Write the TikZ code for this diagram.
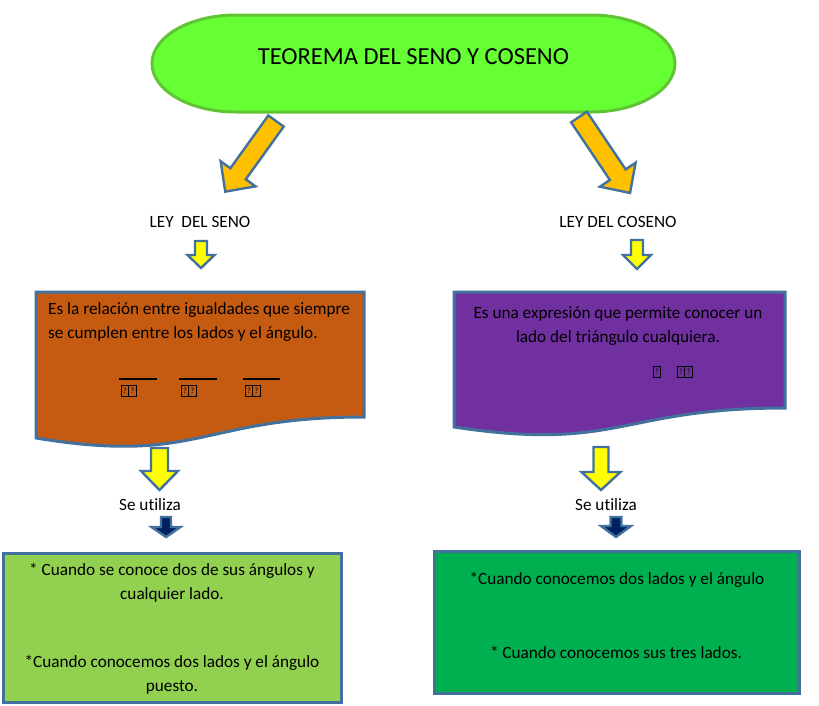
\documentclass[tikz,border=0pt]{standalone}
\usepackage{fontspec}
\setmainfont[Ligatures=NoCommon]{Carlito}
\usetikzlibrary{calc}
\definecolor{bord}{RGB}{65,113,156}
\definecolor{titlegreen}{RGB}{102,255,51}
\definecolor{titlebord}{RGB}{96,196,52}
\definecolor{arrorange}{RGB}{255,192,0}
\definecolor{arryellow}{RGB}{255,255,0}
\definecolor{arrnavy}{RGB}{0,32,96}
\definecolor{docorange}{RGB}{197,90,17}
\definecolor{docpurple}{RGB}{112,48,160}
\definecolor{boxlight}{RGB}{146,208,80}
\definecolor{boxgreen}{RGB}{0,176,80}
\tikzset{
  txt/.style={font=\fontsize{17.2}{24}\selectfont, inner sep=0pt, text=black},
  arrowborder/.style={draw=bord, line width=2.4pt, line join=miter},
  panel/.style={draw=bord, line width=3pt},
  qbox/.style={draw=black, line width=0.9pt, minimum width=7.5pt, minimum height=10.5pt,
     inner sep=0pt, font=\fontsize{8}{8}\selectfont},
  fracline/.style={line width=1.3pt, black}
}
% #1 name, #2 tail, #3 angle, #4 length, #5 shaft, #6 head, #7 head length, #8 fill
\newcommand\blockarr[8]{%
  \begin{scope}[shift={#2}, rotate=#3]
    \draw[arrowborder, fill=#8] (0,-#5/2) -- (#4-#7,-#5/2) -- (#4-#7,-#6/2) -- (#4,0)
      -- (#4-#7,#6/2) -- (#4-#7,#5/2) -- (0,#5/2) -- cycle;
    \coordinate (#1) at (#4/2,0);
  \end{scope}}
\begin{document}
\begin{tikzpicture}[x=1pt,y=-1pt]
\useasboundingbox (0,0) rectangle (819,705);
% title terminator
\draw[draw=titlebord, fill=titlegreen, line width=3pt]
  (236,15) -- (591,15) .. controls (637.4,15) and (675,36.7) .. (675,63.5)
  .. controls (675,90.3) and (637.4,112) .. (591,112) -- (236,112)
  .. controls (189.6,112) and (152,90.3) .. (152,63.5)
  .. controls (152,36.7) and (189.6,15) .. (236,15) -- cycle;
\node[txt, font=\fontsize{24.5}{26}\selectfont] (title) at (413.5,57) {TEOREMA DEL SENO Y COSENO};
% diagonal arrows
\blockarr{arrL}{(276,121)}{-125.7}{87}{19}{43}{22}{arrorange}
\blockarr{arrR}{(579,117)}{-56.1}{91.5}{19}{43}{22}{arrorange}
% labels
\node[txt] (leySeno) at (200,222) {LEY\ \ DEL SENO};
\node[txt] (leyCoseno) at (618,222) {LEY DEL COSENO};
% small yellow arrows
\blockarr{ya1}{(201,241)}{-90}{27}{12}{27}{13}{arryellow}
\blockarr{ya2}{(637,240)}{-90}{29}{12}{28}{14}{arryellow}
% document shapes
\draw[panel, fill=docorange] (36,292) -- (364,292) -- (364,417)
  .. controls (200,417) and (200,465) .. (36,438) -- cycle;
\draw[panel, fill=docpurple] (454,292) -- (785,292) -- (785,408)
  .. controls (619.5,408) and (619.5,452) .. (454,427) -- cycle;
\node[txt, anchor=west, align=left] (docLtext) at (48,322)
  {Es la relación entre igualdades que siempre\\se cumplen entre los lados y el ángulo.};
\node[txt, align=center] (docRtext) at (618,326)
  {Es una expresión que permite conocer un\\lado del triángulo cualquiera.};
% fraction marks left
\draw[fracline] (119,379) -- (157,379);
\draw[fracline] (179,379) -- (217,379);
\draw[fracline] (243,379) -- (280,379);
\node[qbox] (q1) at (125,391) {?};
\node[qbox] (q2) at (132.5,391) {?};
\node[qbox] (q3) at (185,391) {?};
\node[qbox] (q4) at (192.5,391) {?};
\node[qbox] (q5) at (249,391) {?};
\node[qbox] (q6) at (256.5,391) {?};
% marks right
\node[qbox] (q7) at (657,372) {?};
\node[qbox] (q8) at (681,372) {?};
\node[qbox] (q9) at (688.5,372) {?};
% big yellow arrows
\blockarr{yb1}{(159.5,448)}{-90}{42}{17}{37}{19}{arryellow}
\blockarr{yb2}{(601,447)}{-90}{43}{15}{39}{18}{arryellow}
% se utiliza
\node[txt] (use1) at (150,505) {Se utiliza};
\node[txt] (use2) at (606,505) {Se utiliza};
% navy arrows
\blockarr{na1}{(166,517)}{-90}{20}{10}{29}{10}{arrnavy}
\blockarr{na2}{(616,517)}{-90}{20}{11}{30}{11}{arrnavy}
% bottom boxes
\draw[panel, fill=boxlight] (3,553) rectangle (341,702);
\draw[panel, fill=boxgreen] (434,551) rectangle (799,693);
\node[txt, align=center] (b1a) at (172,583) {* Cuando se conoce dos de sus ángulos y\\cualquier lado.};
\node[txt, align=center] (b1b) at (172,675) {*Cuando conocemos dos lados y el ángulo\\puesto.};
\node[txt] (b2a) at (617,580) {*Cuando conocemos dos lados y el ángulo};
\node[txt] (b2b) at (616,652) {* Cuando conocemos sus tres lados.};
\end{tikzpicture}
\end{document}
